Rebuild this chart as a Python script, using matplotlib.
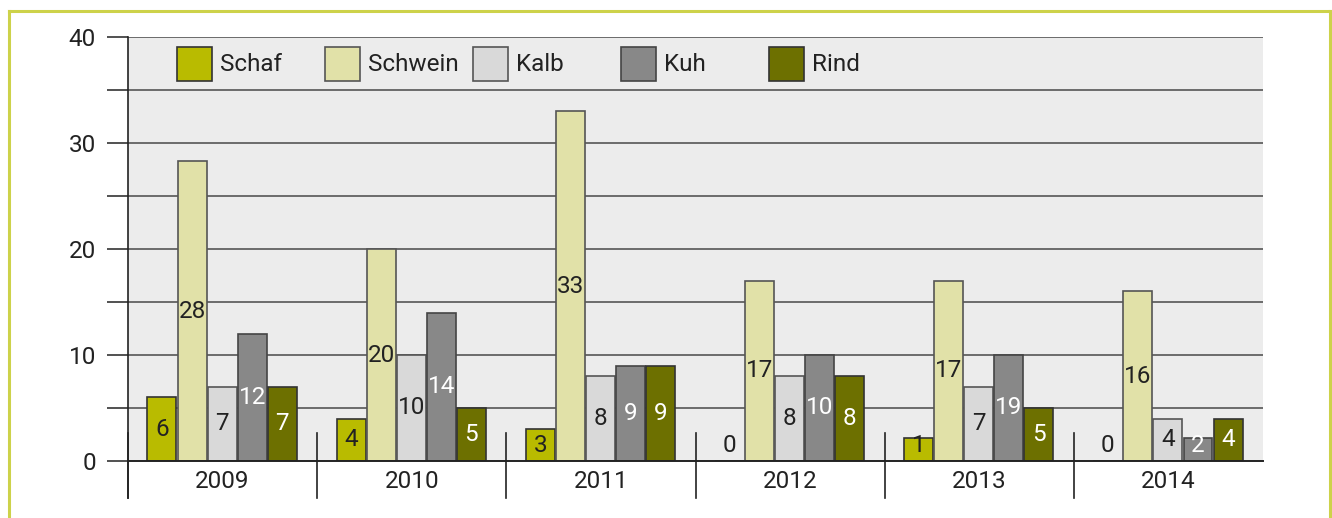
import matplotlib
matplotlib.use("Agg")
import matplotlib.pyplot as plt
from matplotlib.patches import Rectangle
from matplotlib.lines import Line2D
import numpy as np

plt.rcParams['font.family'] = ['Roboto', 'DejaVu Sans']

# data
years = ["2009", "2010", "2011", "2012", "2013", "2014"]
animals = ["Schaf", "Schwein", "Kalb", "Kuh", "Rind"]
schaf = [6, 4, 3, 0, 2.2, 0]
schwein = [28.3, 20, 33, 17, 17, 16]
kalb = [7, 10, 8, 8, 7, 4]
kuh = [12, 14, 9, 10, 10, 2.2]
rind = [7, 5, 9, 8, 5, 4]
# printed labels (as shown in the original, some differ from bar height)
schaf_lbl = ["6", "4", "3", "0", "1", "0"]
schwein_lbl = ["28", "20", "33", "17", "17", "16"]
kalb_lbl = ["7", "10", "8", "8", "7", "4"]
kuh_lbl = ["12", "14", "9", "10", "19", "2"]
rind_lbl = ["7", "5", "9", "8", "5", "4"]

series = [schaf, schwein, kalb, kuh, rind]
labels = [schaf_lbl, schwein_lbl, kalb_lbl, kuh_lbl, rind_lbl]
colors = ["#b9bb00", "#e1e1a8", "#d9d9d9", "#888888", "#6d7000"]
edges = ["#333333", "#555555", "#555555", "#444444", "#333333"]
txtcol = ["#222222", "#222222", "#222222", "white", "white"]
fs = 17.5

fig = plt.figure(figsize=(13.32, 5.18), dpi=100)
ax = fig.add_axes([128 / 1332, 1 - 461 / 518, 1135 / 1332, 424 / 518])
ax.set_facecolor("#ececec")

x = np.arange(len(years))
w = 0.159
for i, (vals, lbls) in enumerate(zip(series, labels)):
    pos = x - 0.5 + 0.1 + w * (i + 0.5)
    ax.bar(pos, vals, width=w - 0.006, color=colors[i], edgecolor=edges[i],
           linewidth=1.2, zorder=3)
    for p, v, t in zip(pos, vals, lbls):
        ax.text(p, max(v / 2, 1.5), t, ha="center", va="center",
                fontsize=fs, color=txtcol[i], zorder=4)

ax.set_xlim(-0.5, len(years) - 0.5)
ax.set_ylim(0, 40)
ax.set_yticks(np.arange(0, 41, 5))
ax.set_yticklabels([str(v) if v % 10 == 0 else "" for v in range(0, 41, 5)])
ax.tick_params(axis="y", length=15, width=1.2, color="#333333", pad=8,
               labelsize=fs, labelcolor="#222222")
ax.tick_params(axis="x", length=0, labelbottom=False)
for v in range(5, 41, 5):
    ax.axhline(v, color="#555555", linewidth=1.2, zorder=1)

for s in ["top", "right"]:
    ax.spines[s].set_visible(False)
ax.spines["left"].set_color("#222222")
ax.spines["bottom"].set_color("#222222")
ax.spines["left"].set_linewidth(1.2)
ax.spines["bottom"].set_linewidth(1.4)
ax.spines["bottom"].set_zorder(5)
ax.spines["left"].set_bounds(-3.5, 40)

# category separators and year labels below the axis
for k in range(len(years)):
    ax.plot([k - 0.5, k - 0.5], [-3.5, 2.6], color="#222222", linewidth=1.2,
            clip_on=False, zorder=5)
    ax.text(k, -1.95, years[k], ha="center", va="center", fontsize=fs,
            color="#222222")

# legend row inside the plot area
for i, name in enumerate(animals):
    x0 = 0.0432 + 0.1304 * i
    ax.add_patch(Rectangle((x0, 0.896), 0.0308, 0.080, transform=ax.transAxes,
                           facecolor=colors[i], edgecolor=edges[i],
                           linewidth=1.2, zorder=4))
    ax.text(x0 + 0.0375, 0.936, name, transform=ax.transAxes, ha="left",
            va="center", fontsize=fs, color="#222222", zorder=4)

# outer yellow frame
fc = "#cdd24a"
fig.add_artist(Line2D([9 / 1332, 9 / 1332], [0, 1 - 11 / 518], color=fc, linewidth=2.2))
fig.add_artist(Line2D([9 / 1332, 1330 / 1332], [1 - 11 / 518, 1 - 11 / 518], color=fc, linewidth=2.2))
fig.add_artist(Line2D([1330 / 1332, 1330 / 1332], [0, 1 - 11 / 518], color=fc, linewidth=2.2))

fig.savefig("out.png", dpi=100)
